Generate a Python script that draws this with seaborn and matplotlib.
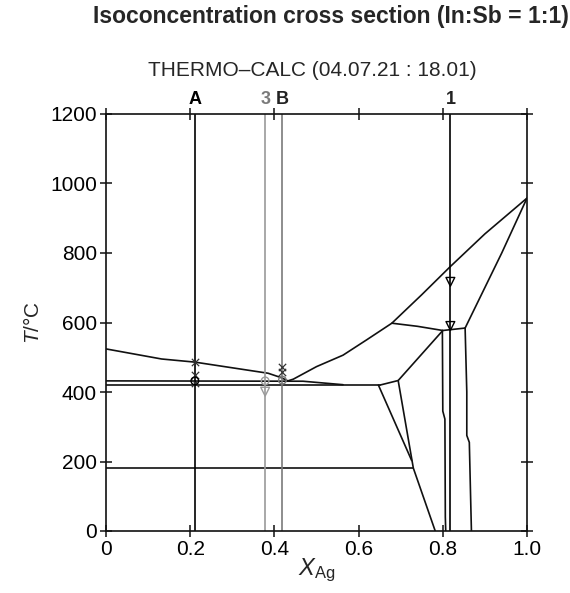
"""Isoconcentration cross section (In:Sb = 1:1), Thermo-Calc style phase diagram."""

import matplotlib
matplotlib.use('Agg')
import matplotlib.pyplot as plt
import matplotlib.transforms as mtransforms
import seaborn as sns

# ── Phase boundaries (x = X_Ag, T in °C) ──────────────────────────────────
liq_left_x = [0.0, 0.132, 0.211, 0.385, 0.417, 0.432]
liq_left_t = [524, 495, 486, 454, 441, 432]

liq_right_x = [0.432, 0.445, 0.50, 0.563, 0.619, 0.679, 0.75, 0.817, 0.90, 1.0]
liq_right_t = [432, 437, 473, 506, 550, 598, 680, 760, 855, 958]

sol_right_x = [1.0, 0.94, 0.853]
sol_right_t = [958, 800, 584]

perit_x = [0.679, 0.74, 0.80, 0.853]
perit_t = [598, 589, 577, 584]

vert_left_x = [0.799, 0.800, 0.805, 0.806, 0.807]
vert_left_t = [577, 345, 322, 40, 0]

vert_right_x = [0.853, 0.857, 0.857, 0.863, 0.866, 0.868]
vert_right_t = [584, 400, 275, 255, 100, 0]

diag_x = [0.80, 0.694, 0.651]
diag_t = [577, 433, 420]

fan_right_x = [0.694, 0.730, 0.782]
fan_right_t = [433, 181, 0]

fan_left_x = [0.647, 0.726]
fan_left_t = [420, 203]

eut_upper_x = [0.0, 0.468, 0.563]
eut_upper_t = [432, 431, 421]

eut_lower_x = [0.0, 0.651]
eut_lower_t = [420, 420]

low_x = [0.0, 0.730]
low_t = [181, 181]

# ── Isopleth sections ─────────────────────────────────────────────────────
section_names = ['A', '3', 'B', '1']
section_x = [0.211, 0.378, 0.419, 0.818]
section_colors = ['black', '#9a9a9a', '#7a7a7a', 'black']
label_colors = ['black', '#7a7a7a', '#222222', '#222222']

# ── Calculated points on the sections ─────────────────────────────────────
cross_x = [0.211, 0.211, 0.211, 0.419, 0.419]
cross_t = [487, 449, 425, 473, 458]
circle_x = [0.211, 0.378, 0.419]
circle_t = [432, 432, 434]
circle_colors = ['black', '#9a9a9a', '#7a7a7a']
tri_x = [0.378, 0.818, 0.818]
tri_t = [401, 717, 590]
tri_colors = ['#9a9a9a', 'black', 'black']

x_ticks = [0, 0.2, 0.4, 0.6, 0.8, 1.0]
x_tick_labels = ['0', '0.2', '0.4', '0.6', '0.8', '1.0']
y_ticks = [0, 200, 400, 600, 800, 1000, 1200]

sns.set_style('ticks')
plt.rcParams['font.family'] = ['Liberation Sans', 'DejaVu Sans']
plt.rcParams['mathtext.fontset'] = 'custom'
plt.rcParams['mathtext.rm'] = 'Liberation Sans'
plt.rcParams['mathtext.it'] = 'Liberation Sans:italic'

fig = plt.figure(figsize=(5.70, 5.93), dpi=100)
ax = fig.add_axes([106 / 570, 1 - 531 / 593, 421 / 570, 417 / 593])

lw = 1.2
boundaries = [
    (liq_left_x, liq_left_t), (liq_right_x, liq_right_t),
    (sol_right_x, sol_right_t), (perit_x, perit_t),
    (vert_left_x, vert_left_t), (vert_right_x, vert_right_t),
    (diag_x, diag_t), (fan_right_x, fan_right_t), (fan_left_x, fan_left_t),
    (eut_upper_x, eut_upper_t), (eut_lower_x, eut_lower_t), (low_x, low_t),
]
for bx, bt in boundaries:
    sns.lineplot(x=bx, y=bt, sort=False, estimator=None, color='#111111',
                 lw=lw, ax=ax)

for name, sx, col in zip(section_names, section_x, section_colors):
    sns.lineplot(x=[sx, sx], y=[0, 1200], sort=False, estimator=None,
                 color=col, lw=lw, ax=ax)

# markers
sns.scatterplot(x=cross_x, y=cross_t, marker='x', s=28, color='#333333',
                linewidth=0.9, ax=ax, zorder=5)
for cx, ct, col in zip(circle_x, circle_t, circle_colors):
    sns.scatterplot(x=[cx], y=[ct], marker='o', s=30, facecolor='none',
                    edgecolor=col, linewidth=1.0, ax=ax, zorder=5)
for tx, tt, col in zip(tri_x, tri_t, tri_colors):
    sns.scatterplot(x=[tx], y=[tt], marker='v', s=40, facecolor='none',
                    edgecolor=col, linewidth=1.0, ax=ax, zorder=5)

ax.set_xlim(0, 1.0)
ax.set_ylim(0, 1200)
ax.set_xticks(x_ticks)
ax.set_xticklabels(x_tick_labels)
ax.set_yticks(y_ticks)

for sp in ax.spines.values():
    sp.set_visible(True)
    sp.set_color('#111111')
    sp.set_linewidth(1.2)
ax.tick_params(axis='both', which='both', top=True, right=True,
               direction='inout', length=9, width=1.1, labelsize=15,
               colors='#111111', pad=2)
ax.tick_params(axis='both', labelcolor='black')

ax.set_xlabel('$X_{\\mathrm{Ag}}$', fontsize=17, labelpad=-2)
ax.set_ylabel('$T$/°C', fontsize=15, labelpad=5)

# section labels above the top axis
trans = mtransforms.blended_transform_factory(ax.transData, ax.transAxes)
for name, sx, col in zip(section_names, section_x, label_colors):
    ax.text(sx, 1.014, name, transform=trans, ha='center', va='bottom',
            fontsize=13, fontweight='bold', color=col)

fig.text(312 / 570, 1 - 70 / 593, 'THERMO\u2013CALC (04.07.21 : 18.01)',
         ha='center', va='center', fontsize=15)
fig.text(331 / 570, 1 - 17 / 593, 'Isoconcentration cross section (In:Sb = 1:1)',
         ha='center', va='center', fontsize=16.5, fontweight='bold')

fig.savefig('out.png', dpi=100)
plt.close(fig)
